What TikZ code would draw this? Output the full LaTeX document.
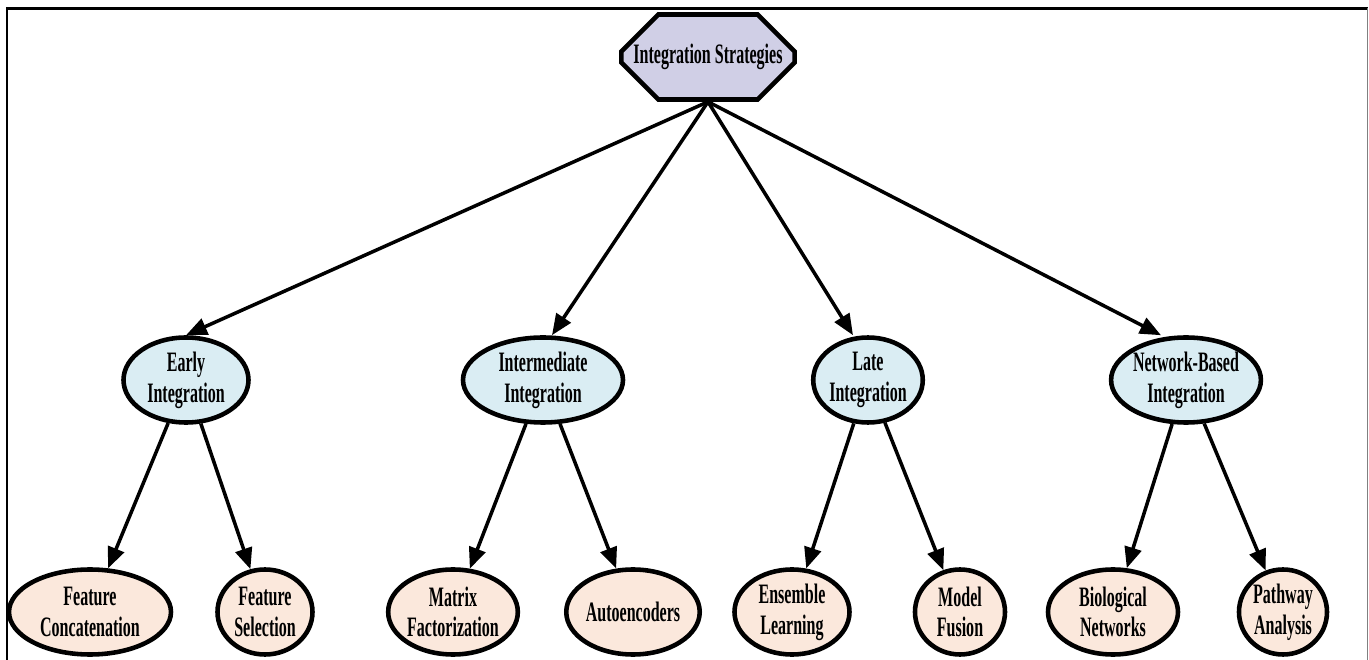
\documentclass[tikz,border=0pt]{standalone}
\usepackage{fontspec}
\setmainfont{Liberation Serif}[FakeStretch=0.57]
\usetikzlibrary{shapes.geometric,shapes.misc,arrows.meta}
\definecolor{rootfill}{RGB}{208,207,230}
\definecolor{midfill}{RGB}{218,237,243}
\definecolor{leaffill}{RGB}{251,232,220}
\begin{document}
\begin{tikzpicture}[
    font=\fontsize{16}{17.5}\selectfont\bfseries,
    base/.style={draw,line width=2.6pt,inner sep=0pt,align=center,minimum height=1.7cm},
    rootbox/.style={base,chamfered rectangle,chamfered rectangle xsep=0.24cm,
      chamfered rectangle ysep=0.5cm,fill=rootfill,minimum width=3.2cm},
    midnode/.style={base,ellipse,fill=midfill},
    leafnode/.style={base,ellipse,fill=leaffill},
    link/.style={draw,line width=2pt,-{Triangle[length=0.42cm,width=0.34cm]}}
  ]

  \useasboundingbox (0,0) rectangle (27.38,-13.2);
  \draw[line width=1.2pt] (0.14,-13.2) -- (0.14,-0.17) -- (27.35,-0.17);
  \draw[gray,line width=0.6pt] (27.35,-0.17) -- (27.35,-13.2);

  \node[rootbox] (root) at (14.16,-1.14) {Integration Strategies};

  \begin{scope}[every node/.style={midnode}]
    \node[minimum width=2.5cm] (early) at (3.72,-7.6)  {Early\\Integration};
    \node[minimum width=3.2cm] (inter) at (10.86,-7.6) {Intermediate\\Integration};
    \node[minimum width=1.9cm] (late)  at (17.36,-7.6) {Late\\Integration};
    \node[minimum width=2.9cm] (net)   at (23.72,-7.6) {Network-Based\\Integration};
  \end{scope}

  \begin{scope}[every node/.style={leafnode}]
    \node[minimum width=3.24cm] (concat)   at (1.8,-12.24)   {Feature\\Concatenation};
    \node[minimum width=1.9cm]  (select)   at (5.3,-12.24)   {Feature\\Selection};
    \node[minimum width=2.46cm] (matrix)   at (9.06,-12.24)  {Matrix\\Factorization};
    \node[minimum width=2.56cm] (autoenc)  at (12.66,-12.24) {Autoencoders};
    \node[minimum width=2.3cm]  (ensemble) at (15.84,-12.24) {Ensemble\\Learning};
    \node[minimum width=1.8cm]  (fusion)   at (19.2,-12.24)  {Model\\Fusion};
    \node[minimum width=2.6cm]  (bionet)   at (22.26,-12.24) {Biological\\Networks};
    \node[minimum width=1.76cm] (pathway)  at (25.66,-12.24) {Pathway\\Analysis};
  \end{scope}

  \begin{scope}[every edge/.style={link}]
    \path (root.south) edge (early.north);
    \path (root.south) edge ([xshift=0.18cm]inter.north);
    \path (root.south) edge ([xshift=-0.3cm]late.north);
    \path (root.south) edge ([xshift=-0.5cm]net.north);

    \path (early) edge (concat);
    \path (early) edge (select);
    \path (inter) edge (matrix);
    \path (inter) edge (autoenc);
    \path (late)  edge (ensemble);
    \path (late)  edge (fusion);
    \path (net)   edge (bionet);
    \path (net)   edge (pathway);
  \end{scope}

\end{tikzpicture}
\end{document}
